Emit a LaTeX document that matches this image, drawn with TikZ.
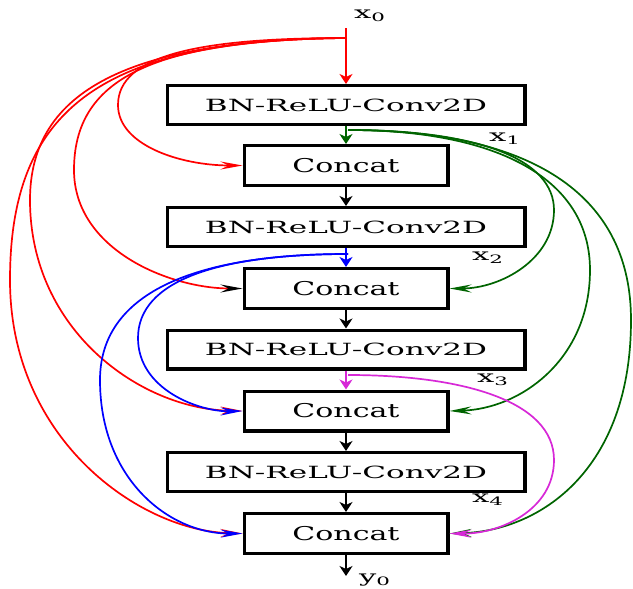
\documentclass[tikz,border=0pt]{standalone}
\usepackage{fontspec}
\setmainfont{DejaVu Serif}
\usepackage{graphicx}
\usetikzlibrary{arrows.meta}
\definecolor{dgreen}{RGB}{0,100,0}
\definecolor{mag}{RGB}{215,40,215}
\newcommand{\wtext}[1]{\scalebox{1.85}[1]{#1}}
\newcommand{\ctext}[1]{\scalebox{1.58}[1]{#1}}
\begin{document}
\begin{tikzpicture}[x=1pt,y=-1pt,
  bnbox/.style={draw, line width=3.4pt, minimum width=357.6pt, minimum height=38.6pt, inner sep=0pt, font=\fontsize{16.8}{18}\selectfont},
  catbox/.style={draw, line width=3.4pt, minimum width=203.6pt, minimum height=39.6pt, inner sep=0pt, font=\fontsize{19}{20}\selectfont},
  lbl/.style={inner sep=0pt, font=\fontsize{16.5}{18}\selectfont},
  vtip/.style={-{Stealth[length=10pt,width=13pt,inset=3pt]}, line width=2.2pt},
  ctip/.style={-{Stealth[length=22pt,width=8pt,inset=8pt]}, line width=1.7pt},
  ctipk/.style={-{Stealth[length=22pt,width=8pt,inset=8pt,black]}, line width=1.7pt},
]
\useasboundingbox (0,0) rectangle (633,589);

\node[bnbox] (bn1) at (346,105) {\wtext{BN-ReLU-Conv2D}};
\node[catbox] (c1) at (346,165.5) {\ctext{Concat}};
\node[bnbox] (bn2) at (346,227) {\wtext{BN-ReLU-Conv2D}};
\node[catbox] (c2) at (346,288.5) {\ctext{Concat}};
\node[bnbox] (bn3) at (346,349.5) {\wtext{BN-ReLU-Conv2D}};
\node[catbox] (c3) at (346,411) {\ctext{Concat}};
\node[bnbox] (bn4) at (346,472) {\wtext{BN-ReLU-Conv2D}};
\node[catbox] (c4) at (346,533.5) {\ctext{Concat}};

\node[lbl] (lx0) at (370,16) {\wtext{x\textsubscript{0}}};
\node[lbl] (lx1) at (505,139) {\wtext{x\textsubscript{1}}};
\node[lbl] (lx2) at (488,258) {\wtext{x\textsubscript{2}}};
\node[lbl] (lx3) at (493,380) {\wtext{x\textsubscript{3}}};
\node[lbl] (lx4) at (488,500) {\wtext{x\textsubscript{4}}};
\node[lbl] (ly0) at (375,580) {\wtext{y\textsubscript{0}}};

\coordinate (s0) at (346,28);
\coordinate (b0) at (346,38);
\coordinate (g1) at (348,130);
\coordinate (b2) at (348,254);
\coordinate (m3) at (348,375);
\coordinate (yend) at (346,576);

% main column
\draw[red, vtip] (s0) -- (bn1.north);
\draw[dgreen, vtip] (bn1.south) -- (c1.north);
\draw[black, vtip] (c1.south) -- (bn2.north);
\draw[blue, vtip] (bn2.south) -- (c2.north);
\draw[black, vtip] (c2.south) -- (bn3.north);
\draw[mag, vtip] (bn3.south) -- (c3.north);
\draw[black, vtip] (c3.south) -- (bn4.north);
\draw[black, vtip] (bn4.south) -- (c4.north);
\draw[black, vtip] (c4.south) -- (yend);

% red skips from x0
\draw[red, ctip] (b0) .. controls (200,38) and (118,55) .. (118,105) .. controls (118,145) and (180,165.5) .. (c1.west);
\draw[red, ctipk] (b0) .. controls (150,40) and (74,80) .. (74,170) .. controls (74,250) and (170,288.5) .. (c2.west);
\draw[red, ctip] (b0) .. controls (130,40) and (30,90) .. (30,200) .. controls (30,330) and (140,409) .. (c3.west);
\draw[red, ctip] (b0) .. controls (100,40) and (10,110) .. (10,280) .. controls (10,440) and (140,531) .. (c4.west);

% blue skips from x2
\draw[blue, ctip] (b2) .. controls (220,254) and (138,280) .. (138,338) .. controls (138,390) and (200,412) .. (c3.west);
\draw[blue, ctip] (b2) .. controls (180,254) and (100,300) .. (100,380) .. controls (100,480) and (170,534) .. (c4.west);

% green skips from x1
\draw[dgreen, ctip] (g1) .. controls (480,130) and (554,160) .. (554,210) .. controls (554,260) and (500,288.5) .. (c2.east);
\draw[dgreen, ctip] (g1) .. controls (500,130) and (590,180) .. (590,270) .. controls (590,360) and (520,409) .. (c3.east);
\draw[dgreen, ctip] (g1) .. controls (540,130) and (631,200) .. (631,320) .. controls (631,470) and (540,531) .. (c4.east);

% magenta skip from x3
\draw[mag, ctip] (m3) .. controls (460,375) and (554,400) .. (554,460) .. controls (554,510) and (500,534) .. (c4.east);
\end{tikzpicture}
\end{document}
